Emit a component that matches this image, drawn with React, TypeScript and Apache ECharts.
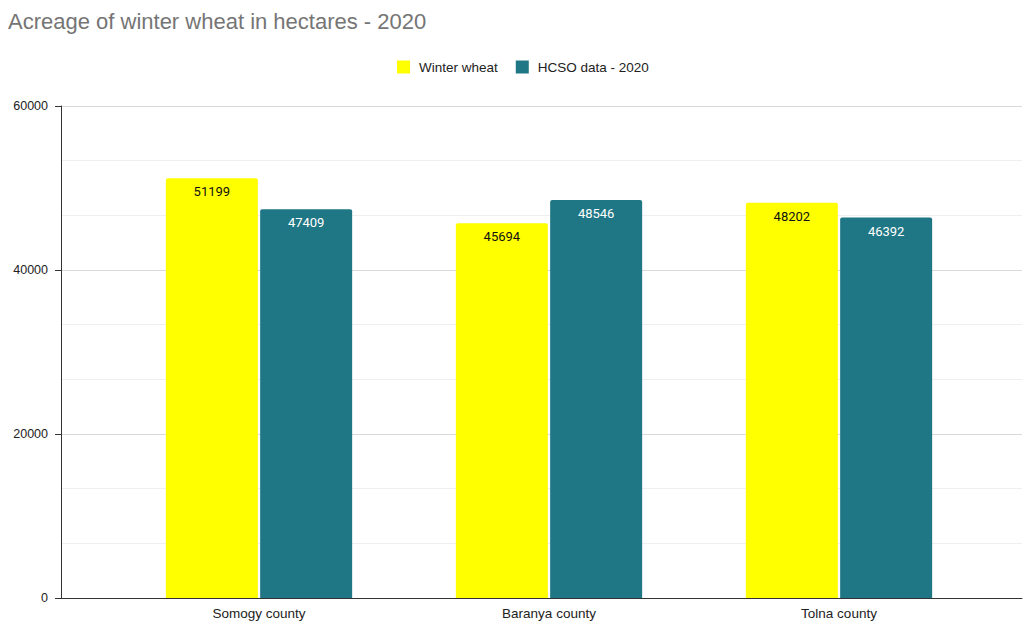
import React, { useEffect, useRef } from "react";
import * as echarts from "echarts";

const categories = ["Somogy county", "Baranya county", "Tolna county"];
const winterWheat = [51199, 45694, 48202];
const hcsoData = [47409, 48546, 46392];
const seriesNames = ["Winter wheat", "HCSO data - 2020"];
const titleText = "Acreage of winter wheat in hectares - 2020";

export default function App() {
  const ref = useRef<HTMLDivElement>(null);
  useEffect(() => {
    document.body.style.margin = "0";
    const chart = echarts.init(ref.current!, null, { renderer: "svg" });
    const yCommon = {
      type: "value",
      min: 0,
      max: 60000,
      interval: 20000,
    };
    chart.setOption({
      animation: false,
      backgroundColor: "#ffffff",
      title: {
        text: titleText,
        left: 3,
        top: 5,
        textStyle: { fontSize: 22, fontWeight: "normal", color: "#757575", fontFamily: "Liberation Sans, Arial" },
      },
      legend: {
        data: seriesNames,
        left: 392,
        top: 55,
        icon: "rect",
        itemWidth: 13,
        itemHeight: 13,
        itemGap: 18,
        textStyle: { fontSize: 13.5, color: "#222", fontFamily: "Liberation Sans, Arial", padding: [0, 0, 0, 4] },
      },
      grid: [
        { left: 61, right: 3, top: 106, bottom: 23 },
        { left: 114, right: 41, top: 106, bottom: 23 },
      ],
      xAxis: [
        {
          type: "category",
          gridIndex: 0,
          data: [""],
          axisLine: { show: true, lineStyle: { color: "#333", width: 1 } },
          axisTick: { show: false },
          axisLabel: { show: false },
          splitLine: { show: false },
        },
        {
          type: "category",
          gridIndex: 1,
          data: categories,
          axisLine: { show: false },
          axisTick: { show: false },
          axisLabel: { fontSize: 13.5, color: "#222", margin: 8, fontFamily: "Liberation Sans, Arial" },
        },
      ],
      yAxis: [
        {
          ...yCommon,
          gridIndex: 0,
          axisLine: { show: true, lineStyle: { color: "#333" } },
          axisTick: { show: true, length: 6, lineStyle: { color: "#333" } },
          axisLabel: {
            fontSize: 12.5,
            color: "#222",
            margin: 13,
            fontFamily: "Liberation Sans, Arial",
            formatter: (v: number) => String(v),
          },
          splitLine: { show: true, lineStyle: { color: "#d9d9d9" } },
          minorTick: { show: false, splitNumber: 3 },
          minorSplitLine: { show: true, lineStyle: { color: "#eeeeee" } },
        },
        {
          ...yCommon,
          gridIndex: 1,
          show: false,
          splitLine: { show: false },
        },
      ],
      series: [
        {
          name: seriesNames[0],
          type: "bar",
          xAxisIndex: 1,
          yAxisIndex: 1,
          data: winterWheat,
          barWidth: 92,
          barGap: "2.5%",
          itemStyle: { color: "#ffff00", borderRadius: [2, 2, 0, 0] },
          label: {
            show: true,
            position: "insideTop",
            distance: 7,
            fontSize: 13,
            color: "#111",
            fontFamily: "Roboto",
          },
        },
        {
          name: seriesNames[1],
          type: "bar",
          xAxisIndex: 1,
          yAxisIndex: 1,
          data: hcsoData,
          barWidth: 92,
          barGap: "2.5%",
          itemStyle: { color: "#1f7785", borderRadius: [2, 2, 0, 0] },
          label: {
            show: true,
            position: "insideTop",
            distance: 7,
            fontSize: 13,
            color: "#ffffff",
            fontFamily: "Roboto",
          },
        },
      ],
    });
    return () => chart.dispose();
  }, []);
  return <div ref={ref} style={{ width: 1025, height: 621 }} />;
}
